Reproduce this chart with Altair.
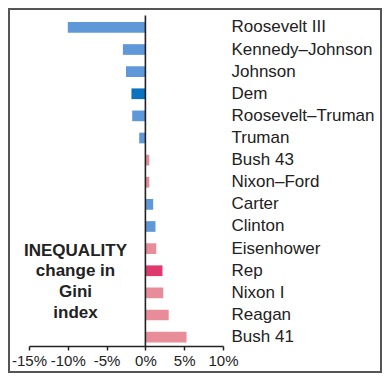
import altair as alt
import pandas as pd

names = ["Roosevelt III", "Kennedy–Johnson", "Johnson", "Dem", "Roosevelt–Truman",
         "Truman", "Bush 43", "Nixon–Ford", "Carter", "Clinton", "Eisenhower",
         "Rep", "Nixon I", "Reagan", "Bush 41"]
values = [-10.0, -2.9, -2.5, -1.8, -1.7, -0.8, 0.5, 0.5, 1.0, 1.3, 1.4, 2.2, 2.3, 3.0, 5.3]
groups = ["dem", "dem", "dem", "demavg", "dem", "dem", "rep", "rep", "dem", "dem",
          "rep", "repavg", "rep", "rep", "rep"]
group_keys = ["dem", "demavg", "rep", "repavg"]
group_colors = ["#5f98d8", "#0b72c0", "#e98c9a", "#de3a6e"]
x_ticks = [-15, -10, -5, 0, 5, 10]
note_lines = ["INEQUALITY", "change in", "Gini", "index"]

df = pd.DataFrame({"name": names, "value": values, "group": groups})

W, H = 194, 327.5
PL, PT, PR, PB = 21, 10.5, 159, 27
font = "Liberation Sans"

x_scale = alt.Scale(domain=[-15, 10], nice=False, zero=False)
y_scale = alt.Scale(domain=names, paddingInner=0.516, paddingOuter=0.16)
x_axis = alt.Axis(values=x_ticks, labelExpr="datum.value + '%'", title=None,
                  grid=False, domainColor="#222", domainWidth=1.5,
                  tickColor="#222", tickWidth=1.5, tickSize=4,
                  labelFont=font, labelFontSize=15, labelColor="#222",
                  labelPadding=3, labelOverlap=False, labelFlush=False,
                  labelBound=False)

bars = alt.Chart(df).mark_bar().encode(
    x=alt.X("value:Q", scale=x_scale, axis=x_axis),
    x2=alt.datum(0),
    y=alt.Y("name:N", scale=y_scale, sort=names,
            axis=alt.Axis(orient="right", title=None, domain=False, ticks=False,
                          labelFont=font, labelFontSize=17, labelColor="#222",
                          labelAlign="left", labelPadding=8, labelLimit=0)),
    color=alt.Color("group:N", scale=alt.Scale(domain=group_keys, range=group_colors),
                    legend=None),
)

zero = alt.Chart(pd.DataFrame({"v": [0]})).mark_rule(color="#222", strokeWidth=1.6).encode(
    x=alt.X("v:Q", scale=x_scale, axis=x_axis),
    y=alt.value(-3),
    y2=alt.value(H),
)

note_df = pd.DataFrame({"t": note_lines, "i": list(range(len(note_lines)))})
note = alt.Chart(note_df).mark_text(font=font, fontWeight="bold", fontSize=17,
                                    color="#222", align="center", baseline="middle").encode(
    x=alt.value(75.5 - 8 - PL),
    y=alt.Y("i:Q", scale=alt.Scale(domain=[0, 3], range=[232, 294.5]), axis=None),
    text="t:N",
)

frame = alt.Chart(pd.DataFrame({"a": [0]})).mark_rect(
    fill=None, stroke="#555", strokeWidth=2).encode(
    x=alt.value(1 - PL), x2=alt.value(W + PR - 1),
    y=alt.value(1 - PT), y2=alt.value(H + PB - 1),
)

chart = alt.layer(bars, zero, note, frame).resolve_scale(y="independent").properties(
    width=W, height=H,
    autosize=alt.AutoSizeParams(type="none"),
    padding={"left": PL, "top": PT, "right": PR, "bottom": PB},
).configure_view(stroke=None)

chart.save("out.html", embed_options={"renderer": "svg", "actions": False})
